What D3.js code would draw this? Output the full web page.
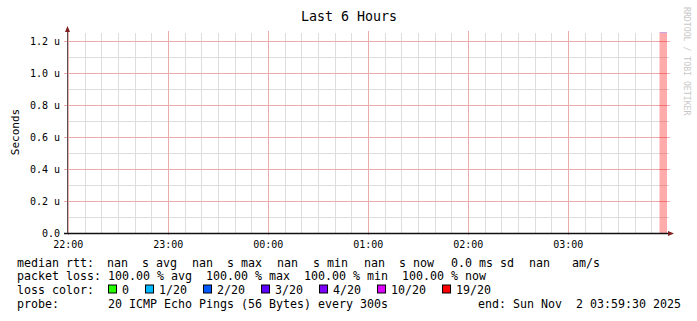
<!DOCTYPE html>
<html>
<head>
<meta charset="utf-8">
<script src="https://cdn.jsdelivr.net/npm/d3@7"></script>
<style>
  html, body { margin: 0; padding: 0; background: #fff; }
  svg { display: block; font-family: "DejaVu Sans Mono", monospace; }
  text { white-space: pre; }
</style>
</head>
<body>
<svg id="chart" width="697" height="321"></svg>
<script>
// ---- data ----
const title = 'Last 6 Hours';
const yLabel = 'Seconds';
const watermark = 'RRDTOOL / TOBI OETIKER';
const graphStart = '2025-11-01T21:59:30Z';
const graphEnd = '2025-11-02T03:59:30Z';
const yTicks = [0, 0.2, 0.4, 0.6, 0.8, 1.0, 1.2];
const yTickLabels = ['0.0', '0.2 u', '0.4 u', '0.6 u', '0.8 u', '1.0 u', '1.2 u'];
const yMax = 1.25;
const stepSeconds = 300;
const binStarts = ['2025-11-02T03:55:00Z'];
const binLost = [20];            // pings lost out of 20
const binMedian = [NaN];         // median rtt, no answer
const lossLabels = ['0', '1/20', '2/20', '3/20', '4/20', '10/20', '19/20'];
const lossLevels = [0, 1, 2, 3, 4, 10, 19];
const lossColors = ['#26ff00', '#00b8ff', '#0059ff', '#5e00ff', '#7e00ff', '#dd00ff', '#ff0000'];
const rttItems = ['median rtt:', 'nan', 's avg', 'nan', 's max', 'nan', 's min', 'nan', 's now', '0.0 ms sd', 'nan', 'am/s'];
const lossLine = 'packet loss: 100.00 % avg  100.00 % max  100.00 % min  100.00 % now';
const probeText = 'probe:       20 ICMP Echo Pings (56 Bytes) every 300s';
const endText = 'end: Sun Nov  2 03:59:30 2025';

// ---- layout ----
const pLeft = 67, pRight = 667, pTop = 33, pBottom = 233;
const rttItemX = [17, 107, 142, 192, 227, 277, 313, 364, 399, 451, 529, 572];
const svg = d3.select('#chart');

const x = d3.scaleUtc()
  .domain([new Date(graphStart), new Date(graphEnd)])
  .range([pLeft, pRight]);
const y = d3.scaleLinear()
  .domain([0, yMax])
  .range([pBottom, pTop]);

const grid = svg.append('g').attr('class', 'grid');

// minor grid (10 min / 0.1 u)
x.ticks(d3.utcMinute.every(10)).forEach(t => {
  if (t.getUTCMinutes() === 0) return;
  grid.append('line')
    .attr('x1', Math.round(x(t)) + 0.5).attr('x2', Math.round(x(t)) + 0.5)
    .attr('y1', pTop).attr('y2', pBottom)
    .attr('stroke', '#dddddd');
});
d3.range(1, 13, 2).map(v => v / 10).forEach(v => {
  grid.append('line')
    .attr('x1', pLeft).attr('x2', pRight + 2)
    .attr('y1', Math.round(y(v)) + 0.5).attr('y2', Math.round(y(v)) + 0.5)
    .attr('stroke', '#dddddd');
});

// major grid (1 h / 0.2 u)
x.ticks(d3.utcHour.every(1)).forEach(t => {
  grid.append('line')
    .attr('x1', Math.round(x(t)) + 0.5).attr('x2', Math.round(x(t)) + 0.5)
    .attr('y1', pTop - 2).attr('y2', pBottom + 2)
    .attr('stroke', '#eaabab');
});
yTicks.forEach(v => {
  if (v === 0) return;
  grid.append('line')
    .attr('x1', pLeft - 3).attr('x2', pRight + 3)
    .attr('y1', Math.round(y(v)) + 0.5).attr('y2', Math.round(y(v)) + 0.5)
    .attr('stroke', '#eaabab');
});

// loss bars
const lossColor = n => {
  let c = lossColors[0];
  lossLevels.forEach((lv, i) => { if (n >= lv) c = lossColors[i]; });
  return c;
};
const bins = binStarts.map((s, i) => {
  const t0 = new Date(s);
  const t1 = new Date(Math.min(+t0 + stepSeconds * 1000, +new Date(graphEnd)));
  return { t0, t1, lost: binLost[i], median: binMedian[i] };
});
svg.append('g').selectAll('rect')
  .data(bins)
  .join('rect')
  .attr('x', d => x(d.t0))
  .attr('width', d => x(d.t1) - x(d.t0))
  .attr('y', pTop)
  .attr('height', pBottom - pTop)
  .attr('fill', d => lossColor(d.lost))
  .attr('fill-opacity', 0.33);
svg.append('g').selectAll('line')
  .data(bins)
  .join('line')
  .attr('x1', d => x(d.t0)).attr('x2', d => x(d.t1))
  .attr('y1', pTop - 0.5).attr('y2', pTop - 0.5)
  .attr('stroke', '#c8a6e0');

// axes
svg.append('line')
  .attr('x1', pLeft - 3).attr('x2', pRight + 2)
  .attr('y1', pBottom + 0.5).attr('y2', pBottom + 0.5)
  .attr('stroke', '#111').attr('stroke-width', 1.5);
svg.append('line')
  .attr('x1', pLeft + 0.5).attr('x2', pLeft + 0.5)
  .attr('y1', pBottom).attr('y2', pTop - 4)
  .attr('stroke', '#555');
svg.append('path')
  .attr('d', `M${pLeft + 0.5},${pTop - 7} L${pLeft - 2},${pTop - 1} L${pLeft + 3},${pTop - 1} Z`)
  .attr('fill', '#7f1f1f');
svg.append('path')
  .attr('d', `M${pRight + 7},${pBottom + 0.5} L${pRight + 1},${pBottom - 2} L${pRight + 1},${pBottom + 3} Z`)
  .attr('fill', '#7f1f1f');

// y tick labels
svg.append('g')
  .attr('class', 'yAxis')
  .attr('transform', `translate(${pLeft},0)`)
  .call(d3.axisLeft(y).tickValues(yTicks).tickSize(0).tickPadding(7)
    .tickFormat((v, i) => yTickLabels[i]))
  .call(g => g.select('.domain').remove())
  .selectAll('text')
  .attr('font-family', '"DejaVu Sans Mono", monospace')
  .attr('font-size', 10)
  .attr('fill', '#000');

// x tick labels
svg.append('g')
  .attr('class', 'xAxis')
  .attr('transform', `translate(0,${pBottom})`)
  .call(d3.axisBottom(x).ticks(d3.utcHour.every(1)).tickSize(0).tickPadding(8)
    .tickFormat(d3.utcFormat('%H:%M')))
  .call(g => g.select('.domain').remove())
  .selectAll('text')
  .attr('font-family', '"DejaVu Sans Mono", monospace')
  .attr('font-size', 10)
  .attr('fill', '#000');

// title, y label, watermark
svg.append('text')
  .attr('x', 349).attr('y', 20.5)
  .attr('text-anchor', 'middle')
  .attr('font-size', 13.3)
  .text(title);
svg.append('text')
  .attr('transform', 'translate(19,132) rotate(-90)')
  .attr('text-anchor', 'middle')
  .attr('font-size', 11)
  .text(yLabel);
svg.append('text')
  .attr('transform', 'translate(684,7) rotate(90)')
  .attr('font-size', 8.2)
  .attr('fill', '#c8c8c8')
  .text(watermark);

// legend
const legX = 17, fs = 11.63, cw = fs * 0.602;
const rowY = [267, 280, 293.5, 307.5];
svg.append('g').selectAll('text')
  .data(rttItems)
  .join('text')
  .attr('x', (d, i) => rttItemX[i]).attr('y', rowY[0])
  .attr('font-size', fs)
  .text(d => d);
svg.append('text')
  .attr('x', legX).attr('y', rowY[1])
  .attr('font-size', fs)
  .text(lossLine);
svg.append('text')
  .attr('x', legX).attr('y', rowY[2])
  .attr('font-size', fs)
  .text('loss color:');
let lx = legX + 13 * cw;
lossLabels.forEach((lab, i) => {
  svg.append('rect')
    .attr('x', lx + 0.5).attr('y', rowY[2] - 8.5)
    .attr('width', 8).attr('height', 8)
    .attr('fill', lossColors[i])
    .attr('stroke', '#000');
  svg.append('text')
    .attr('x', lx + 14).attr('y', rowY[2])
    .attr('font-size', fs)
    .text(lab);
  lx += 14 + lab.length * cw + 16;
});
svg.append('text')
  .attr('x', legX).attr('y', rowY[3])
  .attr('font-size', fs)
  .text(probeText);
svg.append('text')
  .attr('x', 681).attr('y', rowY[3])
  .attr('text-anchor', 'end')
  .attr('font-size', fs)
  .text(endText);
</script>
</body>
</html>
